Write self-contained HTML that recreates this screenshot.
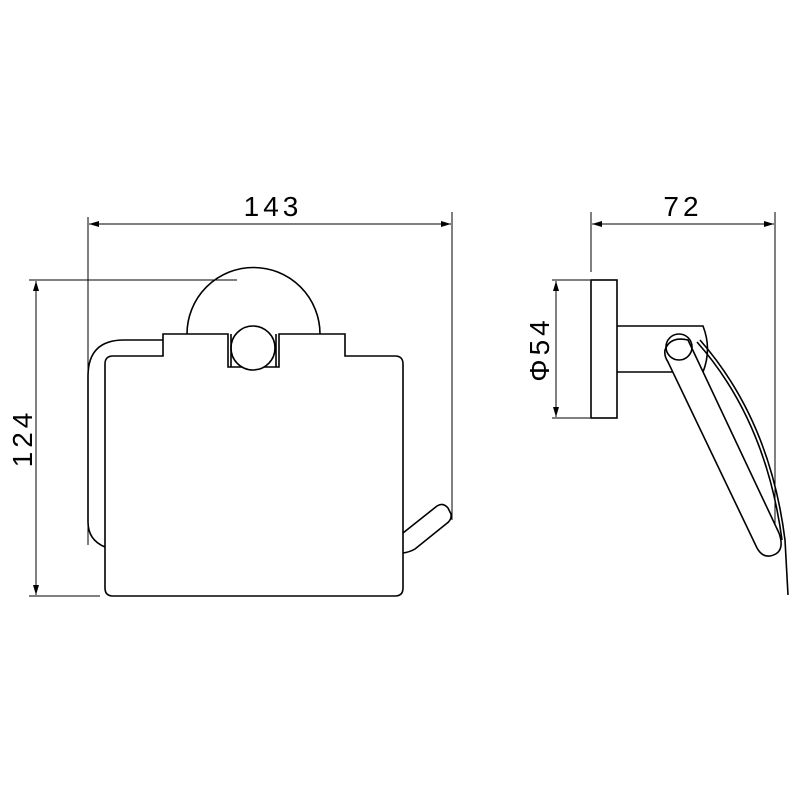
<!DOCTYPE html>
<html><head><style>body{margin:0;background:#fff}svg{display:block}</style></head><body>
<svg width="800" height="800" viewBox="0 0 800 800" xmlns="http://www.w3.org/2000/svg">
<defs>
<marker id="a" markerWidth="10" markerHeight="6" refX="10" refY="3" orient="auto-start-reverse" markerUnits="userSpaceOnUse"><path d="M0,0 L10,3 L0,6 z" fill="#000"/></marker>
</defs>
<g stroke="#000" fill="none" stroke-width="1">
<!-- dims front -->
<line x1="88" y1="217" x2="88" y2="545"/>
<line x1="452" y1="212" x2="452" y2="520"/>
<line x1="89" y1="224" x2="451" y2="224" marker-start="url(#a)" marker-end="url(#a)"/>
<line x1="29" y1="280" x2="237" y2="280"/>
<line x1="29" y1="596" x2="100" y2="596"/>
<line x1="36" y1="281" x2="36" y2="595" marker-start="url(#a)" marker-end="url(#a)"/>
<!-- dims side -->
<line x1="591" y1="212" x2="591" y2="272"/>
<line x1="775" y1="212" x2="775" y2="537"/>
<line x1="592" y1="224" x2="774" y2="224" marker-start="url(#a)" marker-end="url(#a)"/>
<line x1="552" y1="280" x2="590" y2="280"/>
<line x1="552" y1="418" x2="590" y2="418"/>
<line x1="556" y1="281" x2="556" y2="417" marker-start="url(#a)" marker-end="url(#a)"/>
</g>
<g stroke="#000" fill="none" stroke-width="1.6">
<!-- front -->
<path d="M187,334 A66,66 0 0 1 320,334"/>
<path d="M228,334 H163 V356 H113 Q105,356 105,364 V588 Q105,596 113,596 H395 Q403,596 403,588 V364 Q403,356 395,356 H345 V334 H279 V367 L228,367 Z" fill="#fff"/>
<circle cx="253" cy="348" r="22" fill="#fff"/>
<line x1="231" y1="334" x2="231" y2="367"/><line x1="276" y1="334" x2="276" y2="367"/>
<path d="M163,340 H124 Q88,340 88,376 V522 Q88,540 105,547"/>
<path d="M403,533 L437,506 Q443,502 448,508 L451,514 Q452,520 446,524 L415,549 Q410,552 403,553"/>
<!-- side -->
<rect x="591" y="280" width="26" height="138" fill="#fff"/>
<path d="M617,326 H703 Q712,349 703,372 H617"/>
<path d="M700,340 Q770,420 785,540 L788,595"/>
<path d="M697,342 Q766,420 782,540"/>
<path d="M665,350 Q670,336 688,340 L779,533 Q786,553 770,556 Q762,557 757,548 L668,362 Q664,356 665,350 Z" fill="#fff"/>
<circle cx="679" cy="347" r="13"/>
</g>
<g font-family="Liberation Sans, sans-serif" font-size="28" fill="#000" text-anchor="middle" letter-spacing="4">
<text x="273" y="216">143</text>
<text x="683" y="216">72</text>
<text transform="translate(32,438) rotate(-90)">124</text>
<text transform="translate(549,349) rotate(-90)">Φ54</text>
</g>
</svg>
</body></html>
